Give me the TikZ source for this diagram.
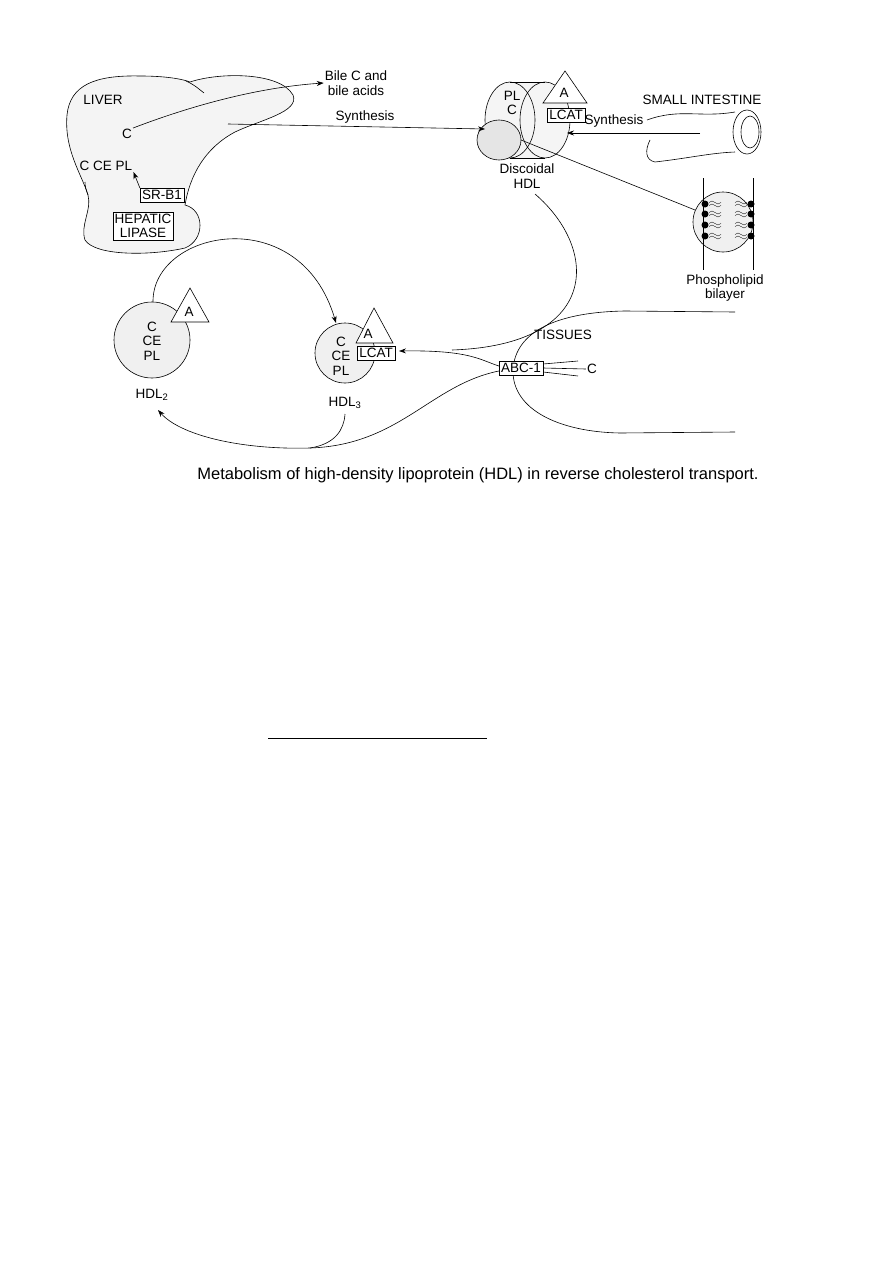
\documentclass[tikz,border=0pt]{standalone}
\usepackage{fontspec}
\setmainfont{Liberation Sans}
\usetikzlibrary{arrows.meta}
\begin{document}
\begin{tikzpicture}[x=1pt,y=-1pt,
  lbl/.style={font=\fontsize{13.5}{14.5}\selectfont,align=center,inner sep=1pt},
  bx/.style={draw,font=\fontsize{13.5}{14.5}\selectfont,inner sep=2pt,fill=white},
  ln/.style={draw,line width=0.6pt},
  arr/.style={ln,-{Stealth[length=7pt,width=5pt]}},
  shade/.style={fill=gray!12},
  tri/.style={draw,fill=white,line width=0.6pt},
  wv/.style={line width=0.4pt}]
\useasboundingbox (0,0) rectangle (893,1263);
% Liver
\draw[ln,fill=gray!9] (67,115) .. controls (70,85) and (95,75) .. (140,76)
  .. controls (170,76) and (185,80) .. (190,82)
  .. controls (220,72) and (280,72) .. (293,95)
  .. controls (300,112) and (260,120) .. (235,132)
  .. controls (205,148) and (190,175) .. (185,205)
  .. controls (205,210) and (205,240) .. (185,248)
  .. controls (150,256) and (95,256) .. (85,240)
  .. controls (80,225) and (92,210) .. (88,195)
  .. controls (82,175) and (64,150) .. (67,115) -- cycle;
\draw[ln] (186,81) .. controls (195,85) and (200,90) .. (204,93);
\draw[ln] (88,195) .. controls (86,190) and (85,186) .. (85,182);
\node[lbl] (liver) at (103,100) {LIVER};
\node[lbl] (c1) at (127,134) {C};
\node[lbl] (cce) at (106,166) {C CE PL};
\node[bx] (srb) at (162,195) {SR-B1};
\node[bx,align=center] (hl) at (143,226) {HEPATIC\\LIPASE};
\node[lbl] (bile) at (356,83) {Bile C and\\bile acids};
\draw[arr] (c1.north east) .. controls (180,110) and (250,88) .. (bile.west);
\draw[arr] (srb.north west) -- (cce.south east);
% Discoidal HDL
\coordinate (synstart) at (228,124);
\fill[gray!8] (508,82) rectangle (545,158);
\fill[gray!8] (545,120) ellipse[x radius=25,y radius=38];
\draw[ln,fill=gray!8] (510,120) ellipse[x radius=25,y radius=38];
\draw[ln] (545,120) ellipse[x radius=25,y radius=38];
\draw[ln] (510,82) -- (545,82);
\draw[ln] (510,158) -- (545,158);
\draw[ln,fill=gray!20] (499,140) circle[x radius=22,y radius=20];
\node[lbl] (plc) at (512,103) {PL\\C};
\draw[tri] (565,71) -- (587,103) -- (543,103) -- cycle;
\node[lbl] at (564,93) {A};
\node[bx] (lcat1) at (566,115) {LCAT};
\coordinate (dhdl) at (485,129);
\node[lbl] (dlab) at (527,176) {Discoidal\\HDL};
\node[lbl] at (365,117) {Synthesis};
\draw[arr] (synstart) -- (dhdl);
% Small intestine
\draw[ln] (647,120) .. controls (680,108) and (700,118) .. (735,112);
\draw[ln] (650,140) .. controls (645,150) and (645,160) .. (655,162)
  .. controls (690,158) and (710,153) .. (735,152);
\draw[ln] (747,132) ellipse[x radius=14,y radius=22];
\draw[ln] (750,132) ellipse[x radius=9,y radius=16];
\node[lbl] (si) at (702,100) {SMALL INTESTINE};
\coordinate (sistart) at (700,133);
\node[lbl] at (614,121) {Synthesis};
\draw[arr] (sistart) -- (567,133);
% Phospholipid bilayer
\draw[ln,shade] (723,222) circle[radius=30];
\draw[ln] (703,178) -- (703,270);
\draw[ln] (753,178) -- (753,270);
\foreach \y in {204,214,225,236}{
  \fill (705,\y) circle[radius=3.5];
  \fill (751,\y) circle[radius=3.5];
  \draw[wv] (709,\y-1.5) sin (712,\y-3) cos (715,\y-1.5) sin (718,\y) cos (721,\y-1.5);
  \draw[wv] (709,\y+1.5) sin (712,\y) cos (715,\y+1.5) sin (718,\y+3) cos (721,\y+1.5);
  \draw[wv] (735,\y-1.5) sin (738,\y-3) cos (741,\y-1.5) sin (744,\y) cos (747,\y-1.5);
  \draw[wv] (735,\y+1.5) sin (738,\y) cos (741,\y+1.5) sin (744,\y+3) cos (747,\y+1.5);
}
\node[lbl] (pb) at (725,288) {Phospholipid\\bilayer};
\coordinate (pbl) at (695,210);
\draw[ln] (521,140) -- (pbl);
% HDL2
\draw[ln,shade] (152,340) circle[radius=38];
\draw[tri] (190,288) -- (209,322) -- (171,322) -- cycle;
\node[lbl] at (189,312) {A};
\node[lbl] (hdl2) at (152,341) {C\\CE\\PL};
\node[lbl] (hdl2l) at (152,395) {HDL\textsubscript{2}};
% HDL3
\draw[ln,shade] (345,353) circle[radius=30];
\draw[tri] (374,308) -- (393,343) -- (356,343) -- cycle;
\node[lbl] at (368,334) {A};
\node[bx] (lcat3) at (376,353) {LCAT};
\node[lbl] (hdl3) at (341,356) {C\\CE\\PL};
\node[lbl] (hdl3l) at (345,403) {HDL\textsubscript{3}};
% Tissues
\draw[ln] (735,312) -- (625,311) .. controls (560,312) and (515,330) .. (513,370)
  .. controls (512,410) and (560,432) .. (620,433) -- (735,432);
\node[lbl] at (563,335) {TISSUES};
\node[bx] (abc) at (521,368) {ABC-1};
\node[lbl] (ct) at (592,369) {C};
\draw[ln] (abc.east) ++(0,-4) -- (578,361);
\draw[ln] (abc.east) -- (ct.west);
\draw[ln] (abc.east) ++(0,4) -- (578,376);
% connectors
\draw[arr] (153,302) .. controls (152,230) and (300,200) .. (336,323);
\draw[ln] (535,194) .. controls (600,250) and (600,345) .. (452,350);
\draw[arr] (abc.west) ++(0,-2) .. controls (480,360) and (470,350) .. (399,351);
\draw[ln] (345,414) .. controls (344,430) and (335,444) .. (310,448);
\draw[arr] (abc.west) ++(0,3) .. controls (430,385) and (400,445) .. (310,448)
  .. controls (240,450) and (180,435) .. (158,410);
% caption
\node[font=\fontsize{16.5}{18}\selectfont] (cap) at (478,475) {Metabolism of high-density lipoprotein (HDL) in reverse cholesterol transport.};
\draw[line width=0.8pt] (268,738) -- (487,738);
\end{tikzpicture}
\end{document}
